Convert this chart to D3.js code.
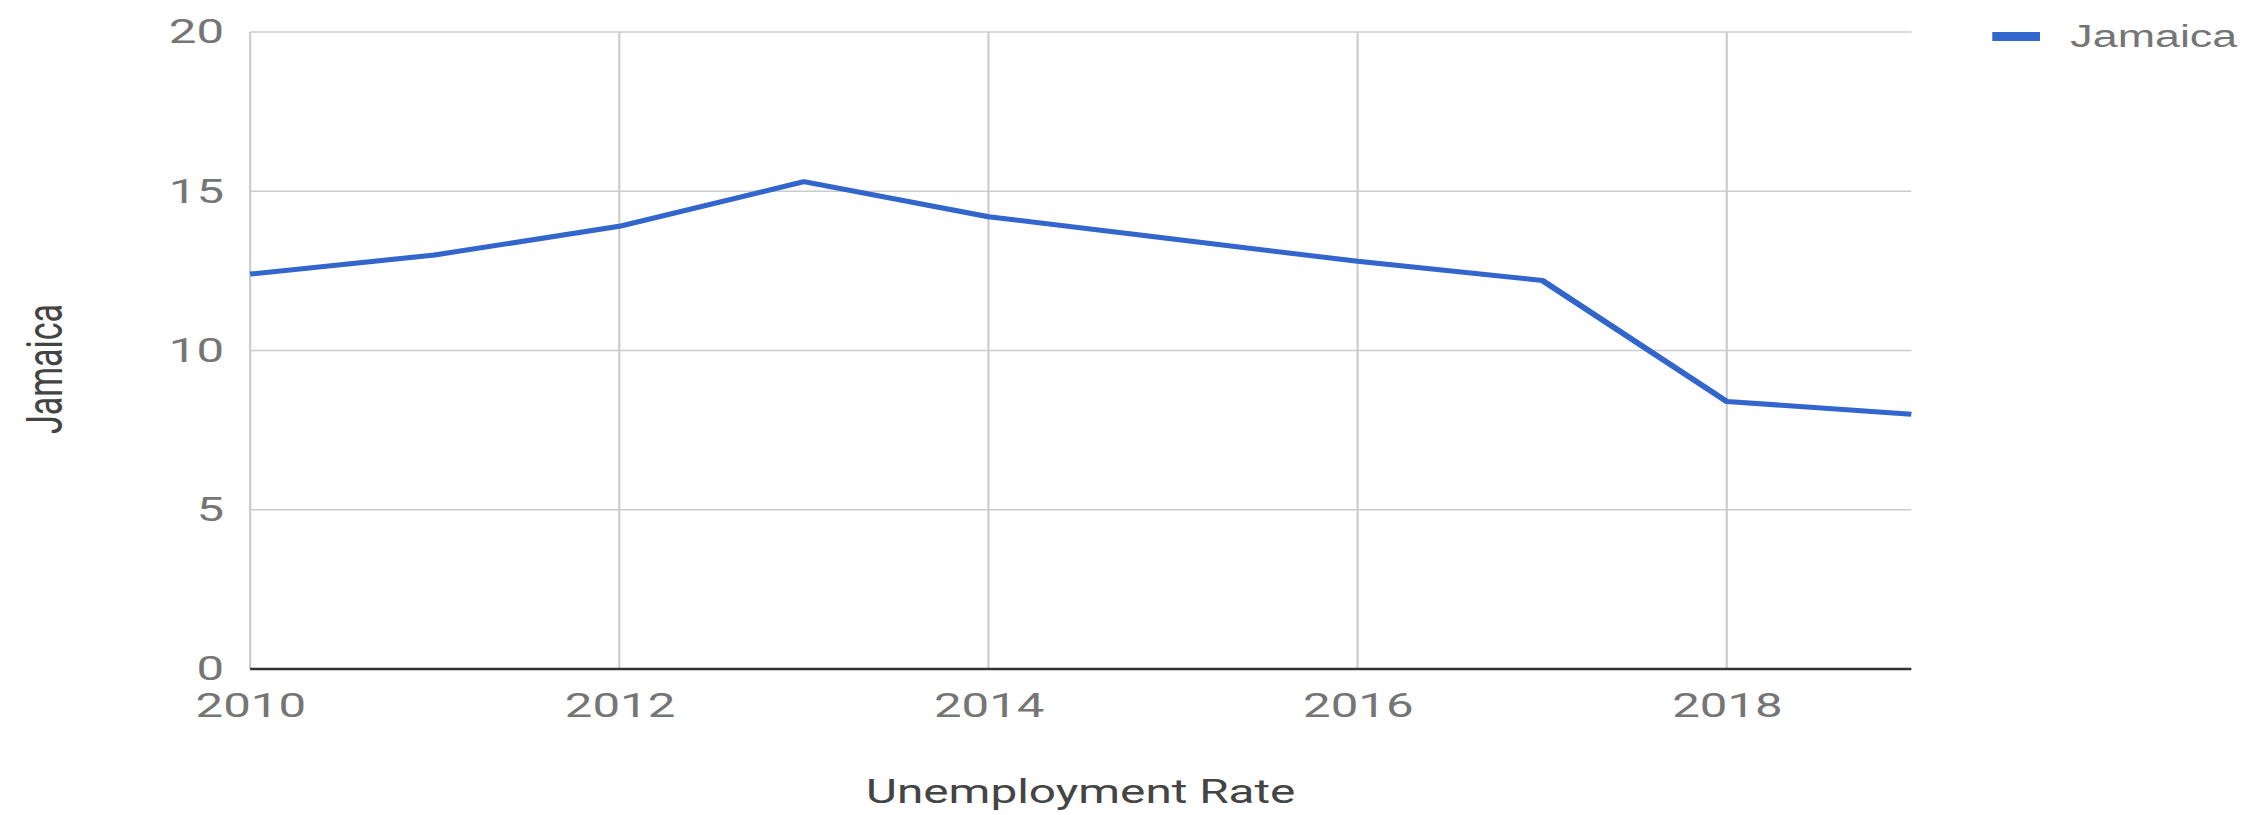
<!DOCTYPE html>
<html>
<head>
<meta charset="utf-8">
<script src="https://cdn.jsdelivr.net/npm/d3@7"></script>
<style>
  html, body { margin: 0; padding: 0; background: #fff; overflow: hidden; }
  .tick text { font-family: Roboto, sans-serif; fill: #757575; }
</style>
</head>
<body>
<div id="chart"></div>
<script>
// data
const years = [2010, 2011, 2012, 2013, 2014, 2015, 2016, 2017, 2018, 2019];
const jamaica = [12.4, 13.0, 13.9, 15.3, 14.2, 13.5, 12.8, 12.2, 8.4, 8.0];
const xTicks = [2010, 2012, 2014, 2016, 2018];
const yTicks = [0, 5, 10, 15, 20];
const seriesName = "Jamaica";
const xTitle = "Unemployment Rate";
const yTitle = "Jamaica";

class LineChart {
  constructor({ el }) {
    this.el = el;
    this.setup();
    this.scaffold();
    this.render();
  }

  setup() {
    // the reference is drawn narrow and stretched sideways, so draw in a
    // narrower box and let the viewBox stretch it to the page
    this.outerWidth = 2267;
    this.height = 815;
    this.width = 1568;
    this.marginTop = 32;
    this.marginRight = 246;
    this.marginBottom = 146;
    this.marginLeft = 173;
    this.fontSize = 34;
    this.color = "#3366cc";

    this.x = d3
      .scaleLinear()
      .domain(d3.extent(years))
      .range([this.marginLeft, this.width - this.marginRight]);
    this.y = d3
      .scaleLinear()
      .domain([0, 20])
      .range([this.height - this.marginBottom, this.marginTop]);

    this.line = d3
      .line()
      .x((_, i) => this.x(years[i]))
      .y((d) => this.y(d));
  }

  scaffold() {
    this.svg = d3
      .select(this.el)
      .append("svg")
      .attr("width", this.outerWidth)
      .attr("height", this.height)
      .attr("viewBox", [0, 0, this.width, this.height])
      .attr("preserveAspectRatio", "none")
      .style("display", "block");
    this.gGrid = this.svg.append("g").attr("class", "grid-g");
    this.gX = this.svg.append("g").attr("class", "axis-g axis-g--x");
    this.gY = this.svg.append("g").attr("class", "axis-g axis-g--y");
    this.gLines = this.svg.append("g").attr("class", "lines-g");
    this.gLegend = this.svg.append("g").attr("class", "legend-g");
    this.gTitles = this.svg.append("g").attr("class", "titles-g");
  }

  render() {
    this.renderGrid();
    this.renderXAxis();
    this.renderYAxis();
    this.renderLines();
    this.renderLegend();
    this.renderTitles();
  }

  renderGrid() {
    const [x0, x1] = this.x.range();
    const [y0, y1] = this.y.range();
    this.gGrid
      .selectAll(".grid-h")
      .data(yTicks.filter((d) => d > 0))
      .join("line")
      .attr("class", "grid-h")
      .attr("x1", x0)
      .attr("x2", x1)
      .attr("y1", (d) => this.y(d))
      .attr("y2", (d) => this.y(d))
      .attr("stroke", "#cccccc")
      .attr("stroke-width", 1.5);
    this.gGrid
      .selectAll(".grid-v")
      .data(xTicks)
      .join("line")
      .attr("class", "grid-v")
      .attr("x1", (d) => this.x(d))
      .attr("x2", (d) => this.x(d))
      .attr("y1", y0)
      .attr("y2", y1)
      .attr("stroke", "#cccccc")
      .attr("stroke-width", 1.5);
    this.gGrid
      .append("line")
      .attr("class", "baseline")
      .attr("x1", x0)
      .attr("x2", x1)
      .attr("y1", this.y(0))
      .attr("y2", this.y(0))
      .attr("stroke", "#333333")
      .attr("stroke-width", 2.5);
  }

  renderXAxis() {
    this.gX
      .attr("transform", `translate(0,${this.height - this.marginBottom})`)
      .call(
        d3
          .axisBottom(this.x)
          .tickValues(xTicks)
          .tickFormat(d3.format("d"))
          .tickSize(0)
          .tickPadding(24)
      )
      .call((g) => g.select(".domain").remove())
      .call((g) => g.selectAll("text").attr("font-size", this.fontSize));
  }

  renderYAxis() {
    this.gY
      .attr("transform", `translate(${this.marginLeft},0)`)
      .call(
        d3
          .axisLeft(this.y)
          .tickValues(yTicks)
          .tickSize(0)
          .tickPadding(18)
      )
      .call((g) => g.select(".domain").remove())
      .call((g) => g.selectAll("text").attr("font-size", this.fontSize));
  }

  renderLines() {
    this.gLines
      .selectAll(".line-path")
      .data([jamaica])
      .join("path")
      .attr("class", "line-path")
      .attr("fill", "none")
      .attr("stroke", this.color)
      .attr("stroke-width", 5)
      .attr("stroke-linejoin", "round")
      .attr("d", (d) => this.line(d));
  }

  renderLegend() {
    this.gLegend
      .append("rect")
      .attr("x", 1378)
      .attr("y", 32)
      .attr("width", 33)
      .attr("height", 9)
      .attr("fill", this.color);
    this.gLegend
      .append("text")
      .attr("x", 1432)
      .attr("y", 47)
      .attr("font-family", "'Liberation Sans', Arial, sans-serif")
      .attr("font-size", 31)
      .attr("fill", "#757575")
      .text(seriesName);
  }

  renderTitles() {
    const [x0, x1] = this.x.range();
    this.gTitles
      .append("text")
      .attr("x", (x0 + x1) / 2)
      .attr("y", 803)
      .attr("text-anchor", "middle")
      .attr("font-family", "Roboto, sans-serif")
      .attr("font-size", 33)
      .attr("fill", "#444")
      .text(xTitle);
    this.gTitles
      .append("text")
      .attr("transform", "translate(43,369) rotate(-90)")
      .attr("text-anchor", "middle")
      .attr("font-family", "Roboto, sans-serif")
      .attr("font-size", 34)
      .attr("fill", "#444")
      .text(yTitle);
  }
}

new LineChart({ el: document.getElementById("chart") });
</script>
</body>
</html>
